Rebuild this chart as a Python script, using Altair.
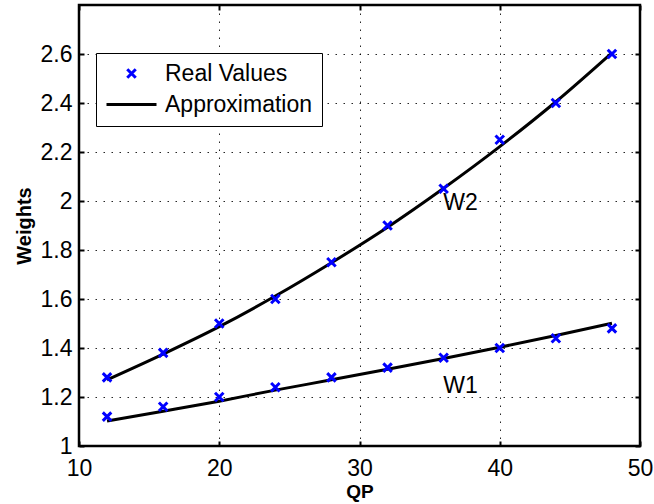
import altair as alt
import pandas as pd

# ---- data ----
qp = [12, 16, 20, 24, 28, 32, 36, 40, 44, 48]
w1_real = [1.12, 1.16, 1.20, 1.24, 1.28, 1.32, 1.36, 1.40, 1.44, 1.48]
w2_real = [1.28, 1.38, 1.50, 1.60, 1.75, 1.90, 2.05, 2.25, 2.40, 2.60]
w1_approx = [1.102, 1.142, 1.183, 1.228, 1.270, 1.313, 1.357, 1.403, 1.451, 1.501]
w2_approx = [1.270, 1.375, 1.487, 1.612, 1.748, 1.893, 2.052, 2.222, 2.405, 2.605]

label_text = ["W2", "W1"]
label_qp = [37.2, 37.2]
label_val = [1.99, 1.245]

x_ticks = [10, 20, 30, 40, 50]
y_ticks = [1.0, 1.2, 1.4, 1.6, 1.8, 2.0, 2.2, 2.4, 2.6]
legend_names = ["Real Values", "Approximation"]

FONT = "Liberation Sans"
W, H = 561, 441

real = pd.DataFrame({
    "qp": qp + qp,
    "value": w1_real + w2_real,
    "curve": ["W1"] * len(qp) + ["W2"] * len(qp),
    "series": ["Real Values"] * (2 * len(qp)),
})
approx = pd.DataFrame({
    "qp": qp + qp,
    "value": w1_approx + w2_approx,
    "curve": ["W1"] * len(qp) + ["W2"] * len(qp),
})
labels = pd.DataFrame({"qp": label_qp, "value": label_val, "text": label_text})

xs = alt.Scale(domain=[10, 50], nice=False, zero=False)
ys = alt.Scale(domain=[1, 2.8], nice=False, zero=False)

grid_kw = dict(grid=True, gridColor="black", gridDash=[1.5, 6.5], gridWidth=1, gridOpacity=0.85)

x_main = alt.X("qp:Q", scale=xs, axis=alt.Axis(
    orient="bottom", values=x_ticks, format="d", labelFont=FONT, labelFontSize=23,
    labelColor="black", labelPadding=11, ticks=False, tickSize=0, domain=False,
    labelFlush=False, labelOverlap=False, labelBound=False,
    title="QP", titleFont=FONT, titleFontSize=19, titleFontWeight="bold",
    titleColor="black", titlePadding=2, **grid_kw))
y_main = alt.Y("value:Q", scale=ys, axis=alt.Axis(
    orient="left", values=y_ticks, format="~g", labelFont=FONT, labelFontSize=23,
    labelColor="black", labelPadding=7, ticks=False, tickSize=0, domain=False,
    labelFlush=False, labelOverlap=False, labelBound=False,
    title="Weights", titleFont=FONT, titleFontSize=20, titleFontWeight="bold",
    titleColor="black", titlePadding=6, **grid_kw))

lines = alt.Chart(approx).mark_line(color="black", strokeWidth=3, interpolate="monotone").encode(
    x=x_main, y=y_main, detail="curve:N")

cross = "M-0.17,-0.17L0.17,0.17M0.17,-0.17L-0.17,0.17"
bar = "M-1,0L1,0"
points = alt.Chart(real).mark_point(size=2500, strokeWidth=3, filled=False, opacity=1).encode(
    x=alt.X("qp:Q", scale=xs),
    y=alt.Y("value:Q", scale=ys),
    color=alt.Color("series:N", scale=alt.Scale(domain=legend_names, range=["#0000ff", "black"]),
                    legend=alt.Legend(title=None, orient="none", legendX=17, legendY=48,
                                      symbolSize=2500, clipHeight=23)),
    shape=alt.Shape("series:N", scale=alt.Scale(domain=legend_names, range=[cross, bar])),
)

texts = alt.Chart(labels).mark_text(font=FONT, fontSize=23, color="black", align="center",
                                    baseline="middle").encode(
    x=alt.X("qp:Q", scale=xs), y=alt.Y("value:Q", scale=ys), text="text:N")

main = alt.layer(lines, points, texts)

# inward-pointing tick marks on all four sides (MATLAB-style box)
tick_kw = dict(labels=False, domain=False, grid=False, ticks=True, tickSize=5, tickWidth=2,
               tickColor="black", title=None)

t1 = alt.Chart(real).mark_point(opacity=0).encode(
    x=alt.X("qp:Q", scale=xs, axis=alt.Axis(orient="top", offset=-H, values=x_ticks, **tick_kw)),
    y=alt.Y("value:Q", scale=ys, axis=alt.Axis(orient="right", offset=-W, values=y_ticks, **tick_kw)),
)
t2 = alt.Chart(real).mark_point(opacity=0).encode(
    x=alt.X("qp:Q", scale=xs, axis=alt.Axis(orient="bottom", offset=-H, values=x_ticks, **tick_kw)),
    y=alt.Y("value:Q", scale=ys, axis=alt.Axis(orient="left", offset=-W, values=y_ticks, **tick_kw)),
)

chart = alt.layer(main, t1, t2).resolve_scale(x="independent", y="independent").properties(
    width=W, height=H,
    autosize=alt.AutoSizeParams(type="none"),
    padding={"left": 79, "top": 5, "right": 14, "bottom": 58},
    background="white",
).configure_view(stroke="black", strokeWidth=2.5).configure_legend(
    fillColor="white", strokeColor="black", strokeWidth=1, padding=9, rowPadding=7,
    labelFont=FONT, labelFontSize=23, labelColor="black", labelOffset=7,
    symbolStrokeWidth=3, symbolOpacity=1, labelLimit=400,
)

chart.save("out.html", embed_options={"renderer": "svg", "actions": False})
